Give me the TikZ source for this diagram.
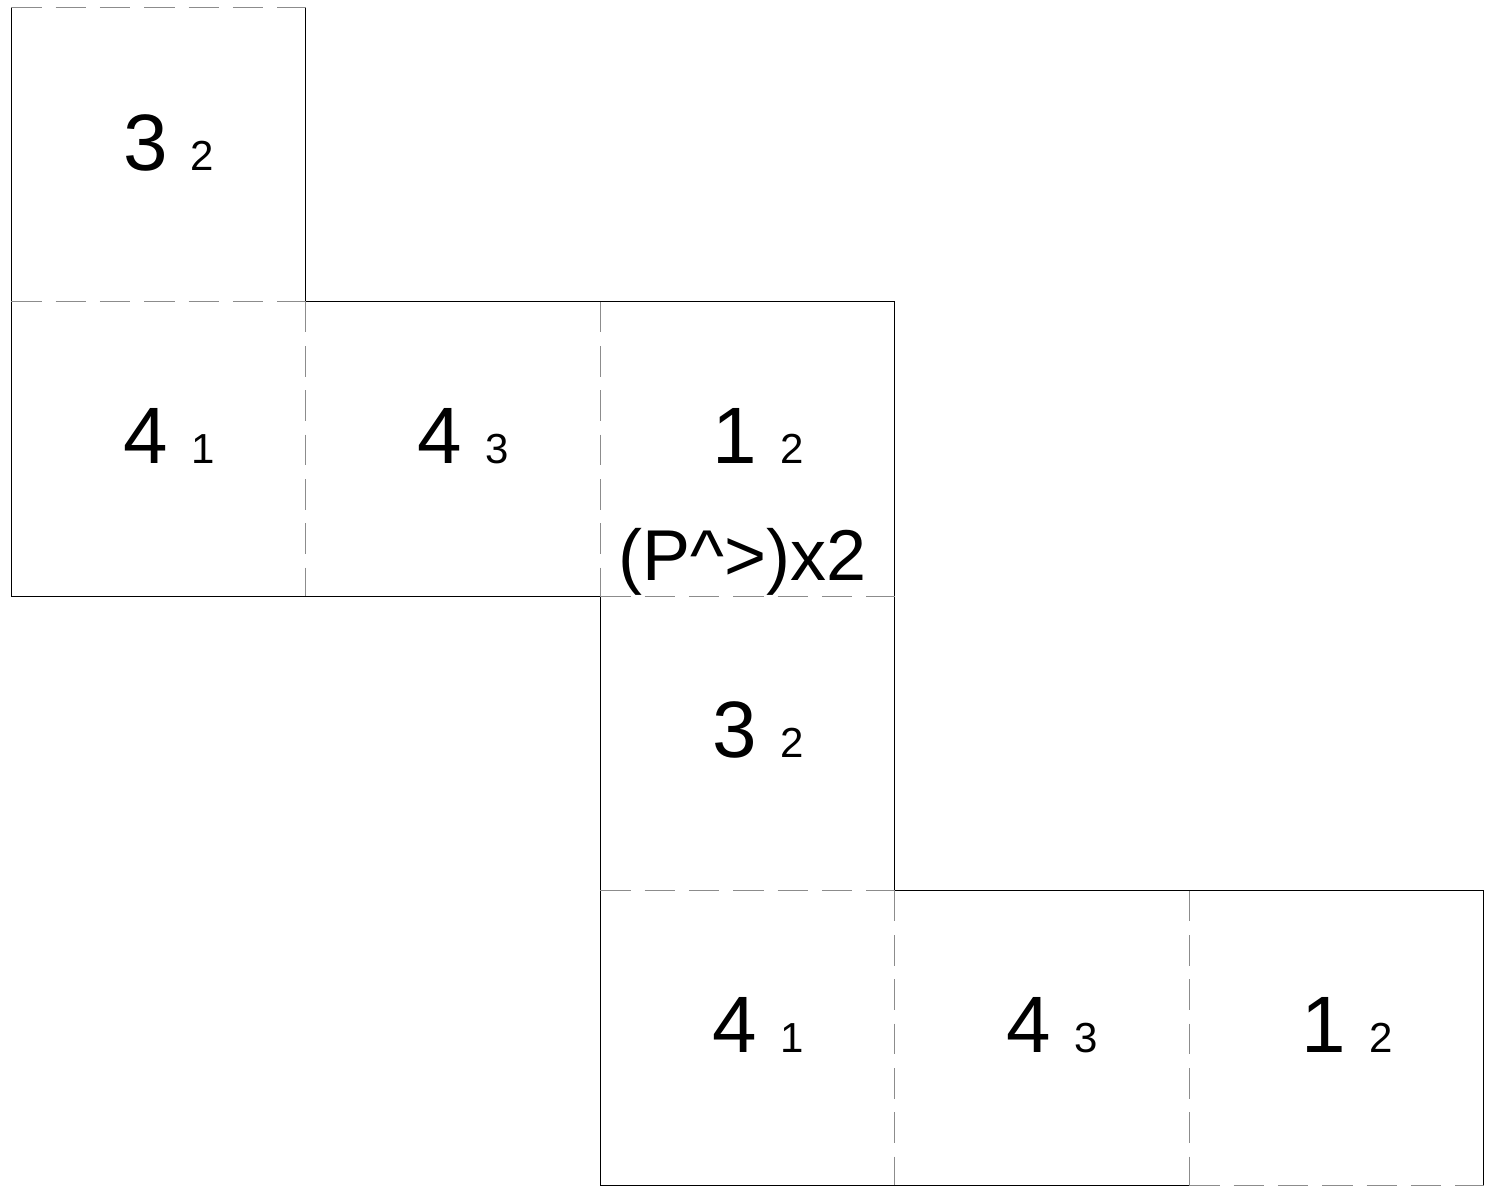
\documentclass[tikz,border=0pt]{standalone}
\usepackage{fontspec}
\setmainfont{Liberation Sans}
\definecolor{foldgray}{RGB}{140,140,140}
\begin{document}
\begin{tikzpicture}[x=1pt,y=-1pt,
  cell/.style={draw=none,minimum size=294.5pt,inner sep=0pt,outer sep=0pt},
  cutedge/.style={draw=black,line width=1pt},
  foldedge/.style={draw=foldgray,line width=1pt,dash pattern=on 30.5pt off 13.8pt},
  big/.style={inner sep=0pt,anchor=base,font=\fontsize{80}{96}\selectfont},
  small/.style={inner sep=0pt,anchor=base,font=\fontsize{42}{50}\selectfont},
  note/.style={inner sep=0pt,anchor=base,font=\fontsize{72}{86}\selectfont}
]
\useasboundingbox (0,0) rectangle (1500,1198);
% squares
\node[cell] (A) at (158.55,154.55) {};
\node[cell] (B) at (158.55,449.05) {};
\node[cell] (C) at (453.05,449.05) {};
\node[cell] (D) at (747.55,449.05) {};
\node[cell] (E) at (747.55,743.55) {};
\node[cell] (F) at (747.55,1038.05) {};
\node[cell] (G) at (1042.05,1038.05) {};
\node[cell] (H) at (1336.55,1038.05) {};
% cut (solid) edges
\draw[cutedge] (A.north west) -- (A.south west);
\draw[cutedge] (A.north east) -- (A.south east);
\draw[cutedge] (B.north west) -- (B.south west) -- (B.south east);
\draw[cutedge] (C.north west) -- (C.north east);
\draw[cutedge] (C.south west) -- (C.south east);
\draw[cutedge] (D.north west) -- (D.north east) -- (D.south east);
\draw[cutedge] (E.north west) -- (E.south west);
\draw[cutedge] (E.north east) -- (E.south east);
\draw[cutedge] (F.north west) -- (F.south west) -- (F.south east);
\draw[cutedge] (G.north west) -- (G.north east);
\draw[cutedge] (G.south west) -- (G.south east);
\draw[cutedge] (H.north west) -- (H.north east) -- (H.south east);
% fold (dashed) edges
\draw[foldedge] (A.north west) -- (A.north east);
\draw[foldedge] (A.south west) -- (A.south east);
\draw[foldedge] (B.north east) -- (B.south east);
\draw[foldedge] (C.north east) -- (C.south east);
\draw[foldedge] (D.south west) -- (D.south east);
\draw[foldedge] (E.south west) -- (E.south east);
\draw[foldedge] (F.north east) -- (F.south east);
\draw[foldedge] (G.north east) -- (G.south east);
\draw[foldedge] (H.south west) -- (H.south east);
% labels
\node[big]   (A1) at ([xshift=-12.6pt,yshift=-15.5pt]A.center) {3};
\node[small] (A2) at ([xshift=44pt,yshift=-15.5pt]A.center) {2};
\node[big]   (B1) at ([xshift=-13.3pt,yshift=-14pt]B.center) {4};
\node[small] (B2) at ([xshift=44.5pt,yshift=-14pt]B.center) {1};
\node[big]   (C1) at ([xshift=-13.3pt,yshift=-14pt]C.center) {4};
\node[small] (C2) at ([xshift=44.5pt,yshift=-14pt]C.center) {3};
\node[big]   (D1) at ([xshift=-13.3pt,yshift=-14pt]D.center) {1};
\node[small] (D2) at ([xshift=44.5pt,yshift=-14pt]D.center) {2};
\node[note]  (D3) at ([xshift=-5.3pt,yshift=-131.6pt]D.center) {(P\textasciicircum>)x2};
\node[big]   (E1) at ([xshift=-13.3pt,yshift=-14pt]E.center) {3};
\node[small] (E2) at ([xshift=44.5pt,yshift=-14pt]E.center) {2};
\node[big]   (F1) at ([xshift=-13.3pt,yshift=-14pt]F.center) {4};
\node[small] (F2) at ([xshift=44.5pt,yshift=-14pt]F.center) {1};
\node[big]   (G1) at ([xshift=-13.3pt,yshift=-14pt]G.center) {4};
\node[small] (G2) at ([xshift=44.5pt,yshift=-14pt]G.center) {3};
\node[big]   (H1) at ([xshift=-13.3pt,yshift=-14pt]H.center) {1};
\node[small] (H2) at ([xshift=44.5pt,yshift=-14pt]H.center) {2};
\end{tikzpicture}
\end{document}
